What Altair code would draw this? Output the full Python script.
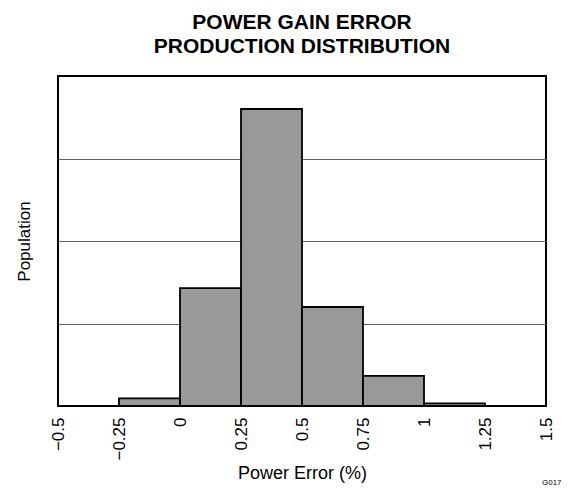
import altair as alt
import pandas as pd

bin_start = [-0.25, 0.0, 0.25, 0.5, 0.75, 1.0]
bin_end = [0.0, 0.25, 0.5, 0.75, 1.0, 1.25]
population = [0.93, 14.3, 36.0, 12.0, 3.65, 0.33]
x_ticks = [-0.5, -0.25, 0, 0.25, 0.5, 0.75, 1, 1.25, 1.5]
title_lines = ["POWER GAIN ERROR", "PRODUCTION DISTRIBUTION"]

df = pd.DataFrame({"start": bin_start, "end": bin_end, "pop": population})

FONT = "Liberation Sans"

bars = alt.Chart(df).mark_rect(
    fill="#999999", stroke="black", strokeWidth=1.8
).encode(
    x=alt.X("start:Q",
            scale=alt.Scale(domain=[-0.5, 1.5], nice=False),
            axis=alt.Axis(values=x_ticks, format=".2~f", labelAngle=-90,
                          ticks=False, domain=False, grid=False,
                          labelPadding=11, labelFontSize=17, labelFont=FONT,
                          labelColor="black", title="Power Error (%)",
                          titleFontSize=18, titleFont=FONT, titleFontWeight="normal",
                          titleColor="black", titlePadding=4,
                          labelFlush=False, labelOverlap=False)),
    x2="end:Q",
    y=alt.Y("pop:Q",
            scale=alt.Scale(domain=[0, 40], nice=False),
            axis=alt.Axis(values=[10, 20, 30], labels=False, ticks=False,
                          domain=False, grid=True, gridColor="#606060",
                          gridWidth=1, gridOpacity=1,
                          title="Population", titleFontSize=17, titleFont=FONT,
                          titleFontWeight="normal", titleColor="black",
                          titlePadding=25)),
    y2=alt.datum(0),
)

note = alt.Chart(pd.DataFrame({"t": ["G017"]})).mark_text(
    font=FONT, fontSize=8, color="black", align="left", baseline="alphabetic"
).encode(
    text="t:N",
    x=alt.value(484),
    y=alt.value(409),
)

chart = alt.layer(bars, note).properties(
    width=488,
    height=330,
    title=alt.TitleParams(title_lines, fontSize=21, font=FONT, fontWeight="bold",
                          color="black", anchor="middle", offset=19, lineHeight=24),
    autosize=alt.AutoSizeParams(type="none"),
    padding={"left": 50, "top": 68, "right": 15, "bottom": 80},
).configure_view(
    stroke="black", strokeWidth=2
)

chart.save("out.html", embed_options={"renderer": "svg", "actions": False})
